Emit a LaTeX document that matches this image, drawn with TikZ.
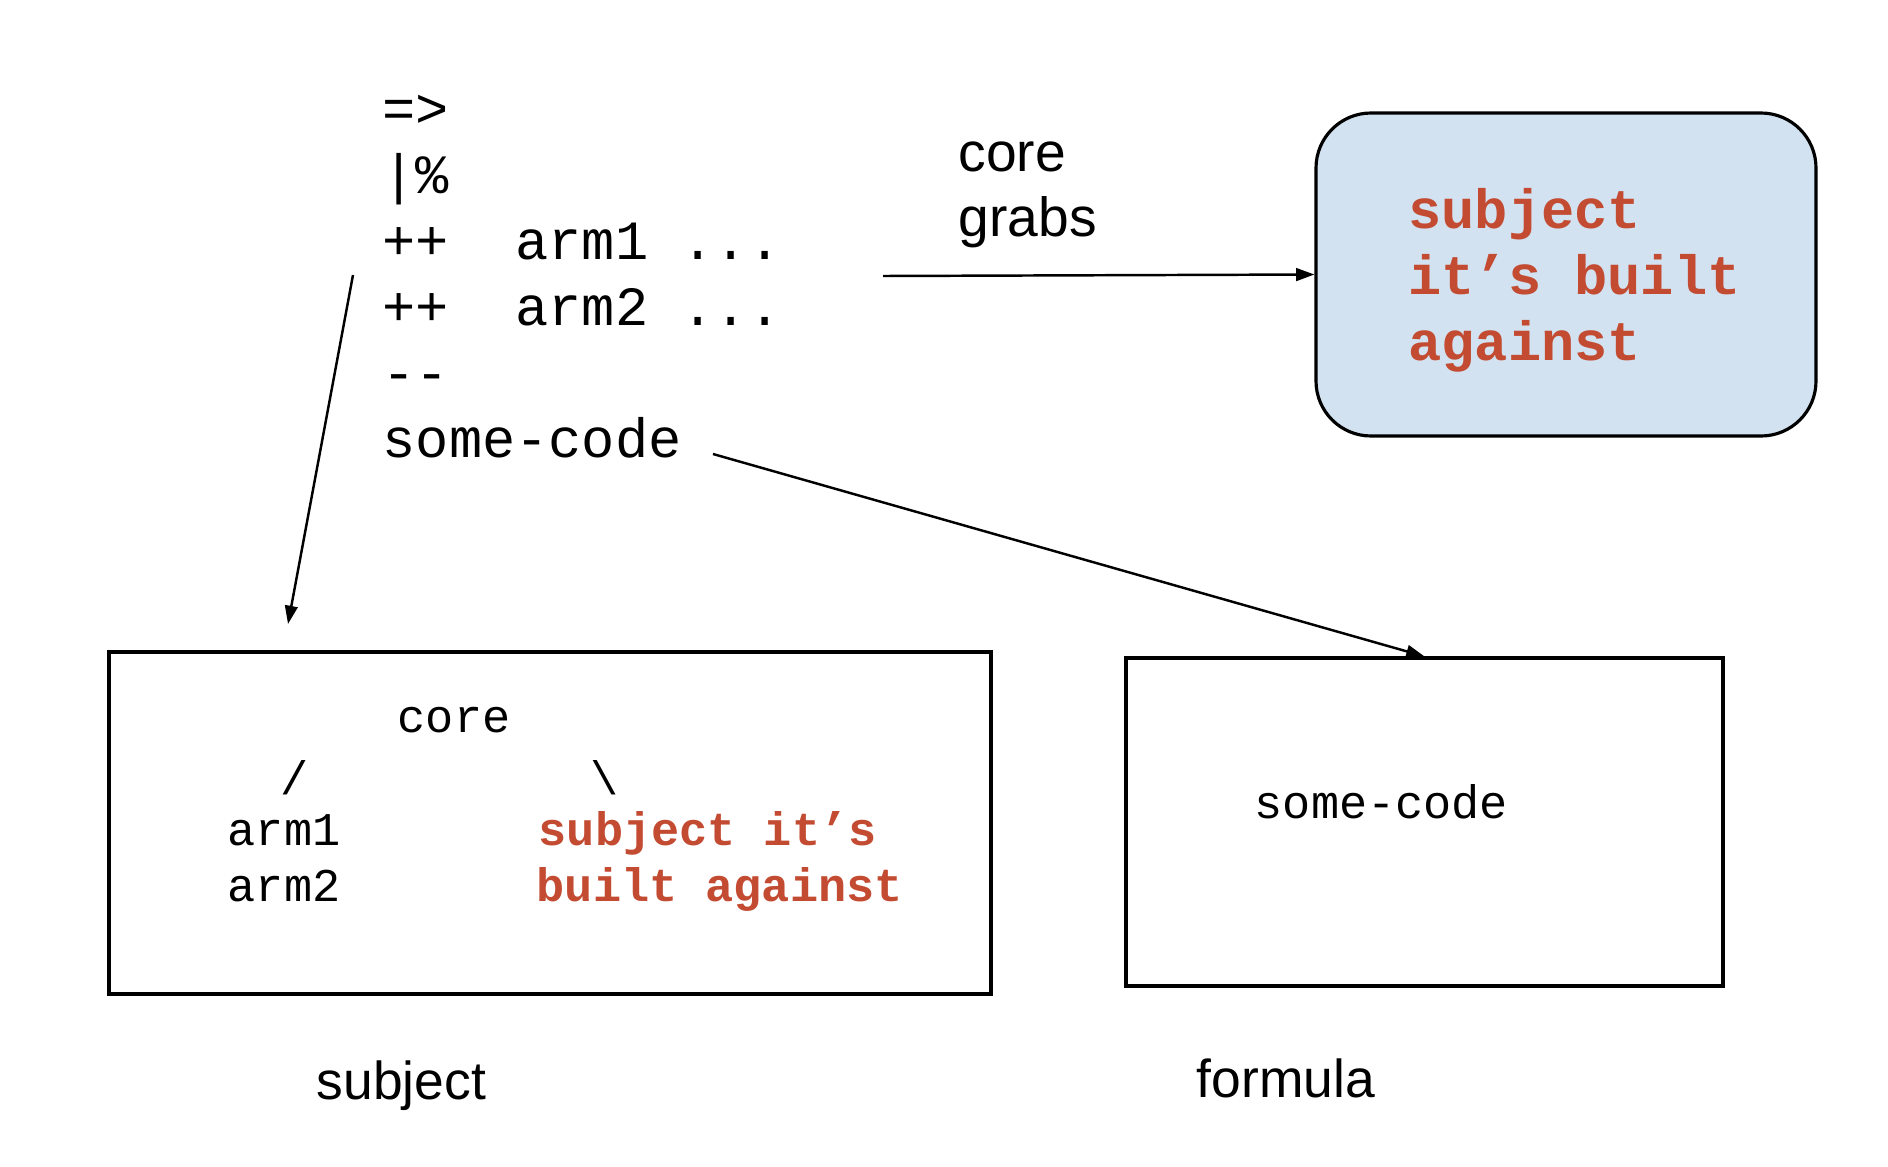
\documentclass[tikz,border=0pt]{standalone}
\usepackage{fontspec}
\setmainfont{Liberation Sans}
\setmonofont{Liberation Mono}
\usetikzlibrary{arrows.meta}
\definecolor{codered}{HTML}{C34B32}
\definecolor{grabblue}{HTML}{D3E2F0}
\newcommand{\bigcode}{\ttfamily\fontsize{15.75}{18.8}\selectfont}
\newcommand{\smallcode}{\ttfamily\fontsize{13.35}{16.2}\selectfont}
\newcommand{\labelfont}{\fontsize{15.2}{17.5}\selectfont}
\tikzset{
  code/.style={font=\bigcode, inner sep=0pt, anchor=base west},
  tree/.style={font=\smallcode, inner sep=0pt, anchor=base west},
  hot/.style={font=\smallcode\bfseries, text=codered, inner sep=0pt, anchor=base west},
  caption/.style={font=\labelfont, inner sep=0pt, anchor=base west},
  frame/.style={draw, line width=0.9pt, inner sep=0pt},
  link/.style={line width=0.7pt, -{Triangle[length=5.2pt,width=3.6pt]}}
}
\begin{document}
\begin{tikzpicture}
\useasboundingbox (0,0) rectangle (18.88,-11.66);
% the code
\node[code] (l1) at (3.82,-1.275) {=>};
\node[code] (l2) at (3.82,-1.935) {|\%};
\node[code] (l3) at (3.82,-2.595) {++\ \ arm1\ ...};
\node[code] (l4) at (3.82,-3.255) {++\ \ arm2\ ...};
\node[code] (l5) at (3.82,-3.915) {-{}-};
\node[code] (l6) at (3.82,-4.575) {some-code};
% what core grabs
\node[caption, font=\fontsize{15.7}{18}\selectfont] (grabs1) at (9.58,-1.71) {core};
\node[caption, font=\fontsize{15.7}{18}\selectfont] (grabs2) at (9.58,-2.36) {grabs};
\node[frame, fill=grabblue, rounded corners=0.55cm, minimum width=5cm, minimum height=3.23cm] (grab)
  at (15.66,-2.745) {};
\node[font=\bigcode\bfseries, text=codered, align=left, inner sep=0pt] (grabtext)
  at ([xshift=0.085cm,yshift=-0.06cm]grab.center) {subject\\it’s built\\against};
% subject box
\node[frame, minimum width=8.82cm, minimum height=3.42cm] (subj) at (5.50,-8.23) {};
\node[tree] (core) at (3.97,-7.32) {core};
\node[tree, anchor=base] (left) at (2.95,-7.94) {/};
\node[tree, anchor=base] (right) at (6.05,-7.94) {\textbackslash};
\node[tree] (arm1) at (2.27,-8.45) {arm1};
\node[tree] (arm2) at (2.27,-9.015) {arm2};
\node[hot] (hot1) at (5.38,-8.45) {subject it’s};
\node[hot] (hot2) at (5.36,-9.015) {built against};
\node[caption] (subjlabel) at (3.16,-10.99) {subject};
% formula box
\node[frame, minimum width=5.97cm, minimum height=3.28cm] (form) at (14.245,-8.22) {};
\node[tree] (formcode) at (12.54,-8.18) {some-code};
\node[caption] (formlabel) at (11.96,-10.97) {formula};
% arrows
\coordinate (treeout) at (3.53,-2.75);
\coordinate (treein) at (2.88,-6.24);
\coordinate (grabout) at (8.83,-2.76);
\coordinate (codeout) at (7.13,-4.54);
\draw[link] (treeout) -- (treein);
\draw[link] (grabout) -- (grab.west);
\draw[link] (codeout) -- (form.north);
\end{tikzpicture}
\end{document}
